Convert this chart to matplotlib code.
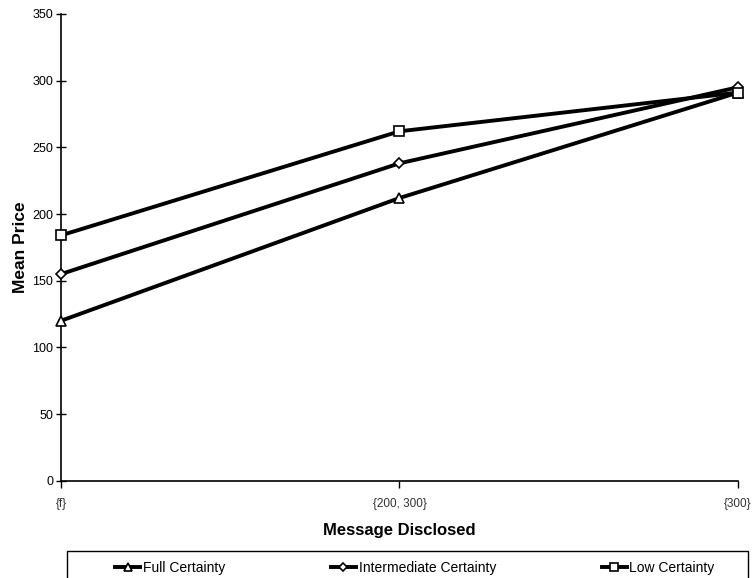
import numpy as np
import matplotlib.pyplot as plt
from matplotlib.patches import Rectangle

plt.rcParams['font.family'] = ['Liberation Sans', 'DejaVu Sans']

messages = ['{f}', '{200, 300}', '{300}']
full_certainty = [120, 212, 291]
intermediate_certainty = [155, 238, 295]
low_certainty = [184, 262, 291]

fig = plt.figure(figsize=(7.53, 5.78), dpi=100)
ax = fig.add_axes([0.081, 0.168, 0.899, 0.808])

x = np.arange(len(messages))
ax.plot(x, full_certainty, color='k', lw=2.8, marker='^', ms=6.5, mfc='white', mec='k', mew=1.2,
        label='Full Certainty', clip_on=False, zorder=3)
ax.plot(x, intermediate_certainty, color='k', lw=2.8, marker='D', ms=5, mfc='white', mec='k', mew=1.2,
        label='Intermediate Certainty', clip_on=False, zorder=3)
ax.plot(x, low_certainty, color='k', lw=2.8, marker='s', ms=6.5, mfc='white', mec='k', mew=1.2,
        label='Low Certainty', clip_on=False, zorder=3)

ax.set_xlim(0, 2)
ax.set_ylim(0, 350)
ax.set_yticks(np.arange(0, 351, 50))
ax.set_xticks(x)
ax.set_xticklabels(messages, fontsize=8.5, color='#333333')
ax.tick_params(axis='y', labelsize=9, direction='inout', length=7, width=1, pad=2)
ax.tick_params(axis='x', direction='out', length=5, width=1, pad=7)

ax.spines['right'].set_color('none')
ax.spines['top'].set_color('none')
ax.spines['left'].set_linewidth(1.2)
ax.spines['bottom'].set_linewidth(1.2)

ax.set_ylabel('Mean Price', fontsize=12.5, fontweight='bold', labelpad=3)
ax.set_xlabel('Message Disclosed', fontsize=12, fontweight='bold', labelpad=10)

# legend box along the bottom edge
fig.patches.append(Rectangle((67 / 753, -0.01), (748 - 67) / 753, (578 - 551) / 578 + 0.01,
                             transform=fig.transFigure, fill=False, edgecolor='k', lw=1))
leg = fig.legend(loc='center', bbox_to_anchor=(0.551, 0.017), ncol=3, frameon=False,
                 fontsize=10, handlelength=1.8, handletextpad=0.2, columnspacing=7.6,
                 borderaxespad=0, markerscale=0.8)

fig.savefig('out.png', dpi=100)
